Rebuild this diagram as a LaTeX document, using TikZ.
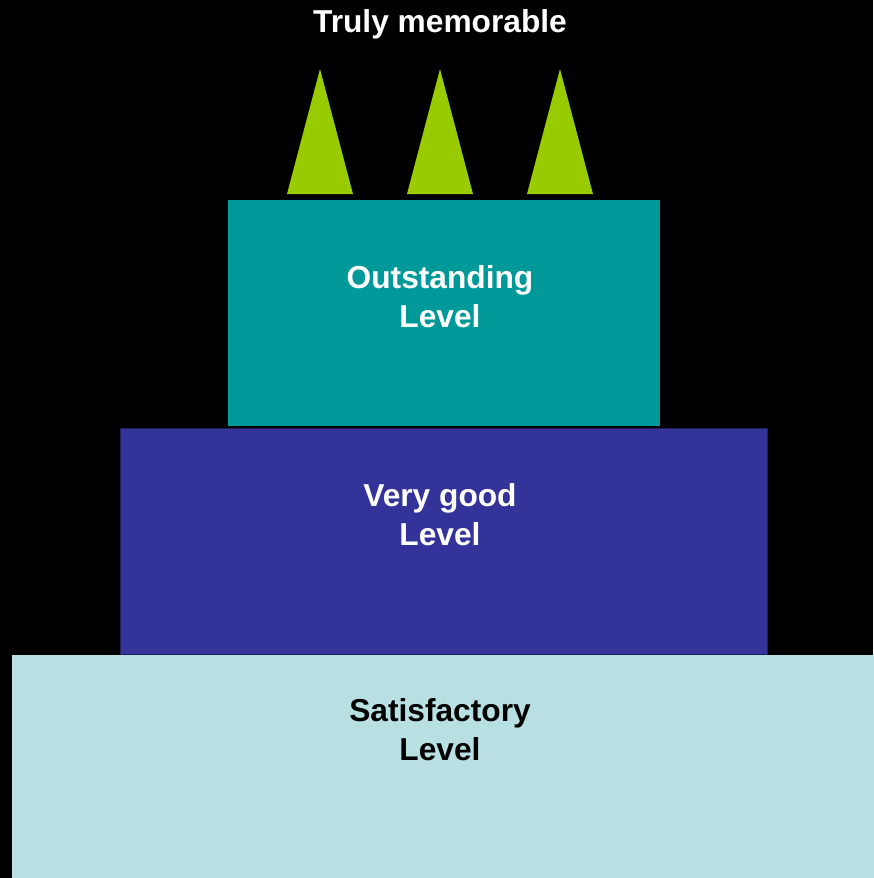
\documentclass[tikz,border=0pt]{standalone}
\usepackage{fontspec}
\setmainfont{Liberation Sans}
\definecolor{candlegreen}{HTML}{99CC00}
\definecolor{topteal}{HTML}{009999}
\definecolor{midblue}{HTML}{333399}
\definecolor{baseblue}{HTML}{B8E0E2}
\begin{document}
\begin{tikzpicture}[x=1pt,y=-1pt,
    tier/.style ={rectangle, draw=midblue!60!black, line width=0.8pt, anchor=north west, inner sep=0pt},
    caption/.style ={align=center, font=\fontsize{31.7}{39}\selectfont\bfseries, text=white}]
   \fill[black] (0,0) rectangle (873,878);
   \useasboundingbox (0,0) rectangle (873,878);
   % layers
   \node[tier, fill=baseblue, draw=baseblue, minimum width=862pt, minimum height=224pt] (satisfactory) at (12,655) {};
   \node[tier, fill=midblue, minimum width=647pt, minimum height=226pt] (verygood) at (120,428) {};
   \node[tier, fill=topteal, draw=topteal, minimum width=431pt, minimum height=225pt] (outstanding) at (228,200) {};
   % candles
   \foreach \x in {320,440,560}
      \fill[candlegreen] (\x,69) -- (\x+33,194) -- (\x-33,194) -- cycle;
   % texts
   \node[caption] (memorable) at (440,24) {Truly memorable};
   \node[caption] (outtext) at (440,297) {Outstanding\\Level};
   \node[caption] (goodtext) at (440,515) {Very good\\Level};
   \node[caption, text=black] (sattext) at (440,730) {Satisfactory\\Level};
\end{tikzpicture}
\end{document}
